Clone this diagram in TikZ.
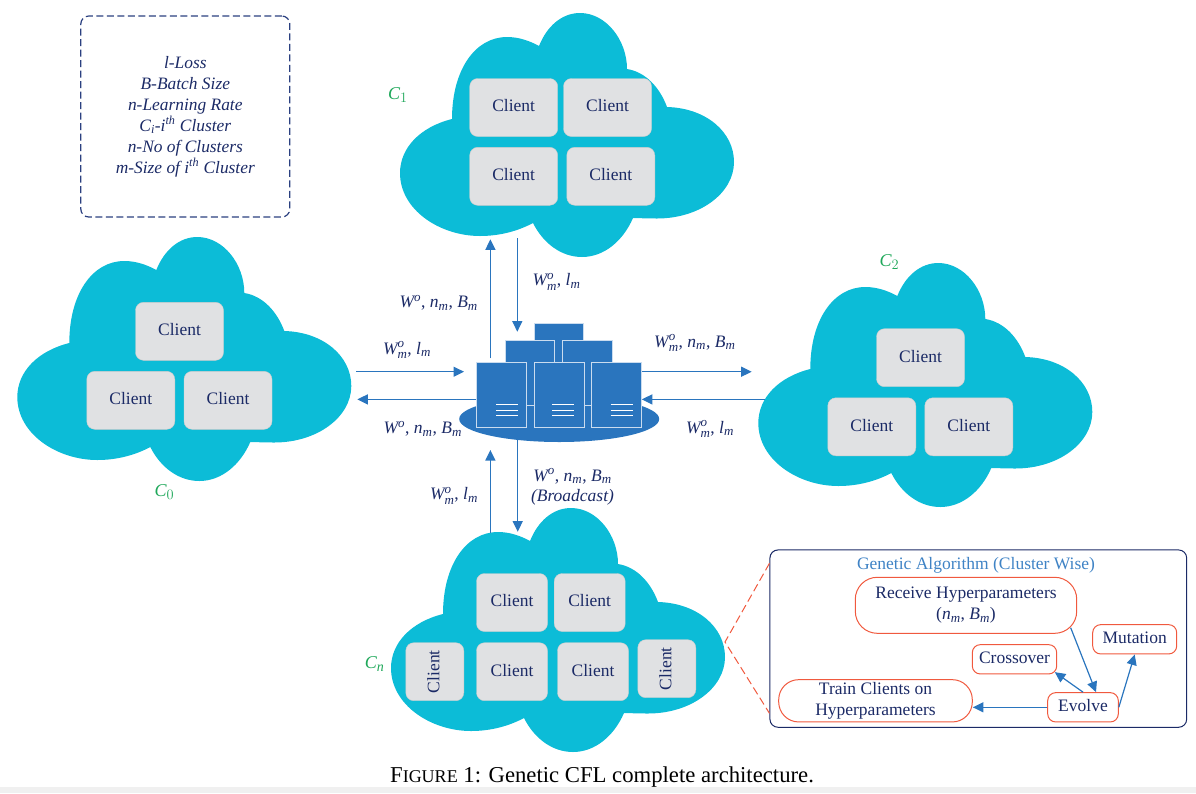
\documentclass[tikz,border=0pt]{standalone}
\usepackage{fontspec}
\usepackage{amsmath}
\setmainfont{Liberation Serif}
\usetikzlibrary{arrows.meta}
\DeclareMathSizes{17.5}{17.5}{13}{10}
\DeclareMathSizes{18}{18}{14}{10}

\definecolor{navy}{HTML}{1B2A66}
\definecolor{legendline}{HTML}{2B4080}
\definecolor{cloudcyan}{HTML}{0CBCD7}
\definecolor{clientgray}{HTML}{E0E1E3}
\definecolor{serverblue}{HTML}{2A75BE}
\definecolor{gared}{HTML}{F0593E}
\definecolor{clustergreen}{HTML}{1FA85A}

\tikzset{
    clientbox/.style={draw=gray!40, fill=clientgray, rounded corners=8pt, minimum width=88pt, minimum height=58pt, inner sep=0pt, text=navy, font=\fontsize{17.5}{20}\selectfont},
    clientnarrow/.style={clientbox, minimum width=58pt},
    clientmid/.style={clientbox, minimum width=71pt},
    clustername/.style={text=clustergreen, inner sep=0pt, font=\fontsize{18}{20}\selectfont},
    params/.style={text=navy, inner sep=0pt, align=center, font=\fontsize{17.5}{20}\selectfont},
    server/.style={draw=serverblue!25, line width=1pt, fill=serverblue, inner sep=0pt},
    serverlines/.style={draw=white, line width=1pt},
    flow/.style={draw=serverblue, line width=1.2pt, -{Triangle[length=10.5pt,width=10pt]}},
    gabox/.style={draw=gared, line width=1pt, text=navy, align=center, inner sep=0pt, font=\fontsize{17.5}{21}\selectfont},
}

% same outline for every cloud, shifted into place
\newcommand{\CloudAt}[2]{
    \fill[cloudcyan, shift={(#1,#2)}] (72,119)
        .. controls (40,127) and (20,148) .. (20,173)
        .. controls (20,210) and (60,236) .. (100,236)
        .. controls (120,236) and (138,231) .. (153,223)
        .. controls (163,243) and (181,257) .. (202,257)
        .. controls (224,257) and (243,241) .. (253,218)
        .. controls (258,218) and (265,218.5) .. (277,218.5)
        .. controls (320,218.5) and (354,193) .. (354,162)
        .. controls (354,132) and (326,108) .. (287,107)
        .. controls (280,88) and (266,72) .. (247,69)
        .. controls (247,40) and (226,13) .. (200,13)
        .. controls (182,13) and (167,26) .. (159,46)
        .. controls (150,41) and (139,37) .. (127,37)
        .. controls (95,37) and (72,70) .. (72,119) -- cycle;
}
\newcommand{\Lift}[1]{\raisebox{1.5pt}[\height][\depth]{#1}}
\newcommand{\Wom}{$\mathit{W}^{\mathit{o}}_{\mathit{m}}$}
\newcommand{\Wup}{$\mathit{W}^{\mathit{o}}$}
\newcommand{\nm}{$\mathit{n}_{\mathit{m}}$}
\newcommand{\Bm}{$\mathit{B}_{\mathit{m}}$}
\newcommand{\lm}{$\mathit{l}_{\mathit{m}}$}

\begin{document}
\begin{tikzpicture}[x=1pt,y=-1pt]
    \useasboundingbox (0,0) rectangle (1196,793);
    \fill[black!6] (0,787) rectangle (1196,793);

    \CloudAt{380}{0}
    \CloudAt{-2.7}{224}
    \CloudAt{738.3}{250}
    \CloudAt{371}{495}

    % legend
    \node[draw=legendline, dash pattern=on 7pt off 3.5pt, line width=1.2pt, rounded corners=8pt, minimum width=209pt, minimum height=201pt, inner sep=0pt, text=navy, align=center, font=\itshape\fontsize{17.4}{21}\selectfont] (legend) at (185.3,116.5)
        {l-Loss\\B-Batch Size\\n-Learning Rate\\C\textsubscript{i}-i\textsuperscript{th} Cluster\\n-No of Clusters\\m-Size of i\textsuperscript{th} Cluster};

    % clients
    \node[clientbox] (cOneA) at (513.7,107.5) {\Lift{Client}};
    \node[clientbox] (cOneB) at (607.5,107.5) {\Lift{Client}};
    \node[clientbox] (cOneC) at (513.7,176.3) {\Lift{Client}};
    \node[clientbox] (cOneD) at (610.8,176.3) {\Lift{Client}};

    \node[clientbox] (cZeroA) at (179.5,331.3) {\Lift{Client}};
    \node[clientbox] (cZeroB) at (130.8,400.3) {\Lift{Client}};
    \node[clientbox] (cZeroC) at (228,400.3) {\Lift{Client}};

    \node[clientbox] (cTwoA) at (920.5,357.7) {\Lift{Client}};
    \node[clientbox] (cTwoB) at (871.8,426.8) {\Lift{Client}};
    \node[clientbox] (cTwoC) at (968.8,426.8) {\Lift{Client}};

    \node[clientmid] (cNA) at (512,602.5) {\Lift{Client}};
    \node[clientmid] (cNB) at (589.7,602.5) {\Lift{Client}};
    \node[clientmid] (cNC) at (512,671.7) {\Lift{Client}};
    \node[clientmid] (cND) at (593,671.7) {\Lift{Client}};
    \node[clientnarrow] (cNE) at (434.8,671.7) {\rotatebox{90}{\Lift{Client}}};
    \node[clientnarrow] (cNF) at (666.8,668.7) {\rotatebox{90}{\Lift{Client}}};

    \node[clustername] (nameZero) at (164.5,491.7) {$\mathit{C}_{0}$};
    \node[clustername] (nameOne) at (398,95) {$\mathit{C}_{1}$};
    \node[clustername] (nameTwo) at (889.5,262) {$\mathit{C}_{2}$};
    \node[clustername] (nameN) at (374.7,664) {$\mathit{C}_{\mathit{n}}$};

    % server stack
    \fill[serverblue] (559.2,419) ellipse (100 and 23);
    \node[server, minimum width=49pt, minimum height=82pt] (svTop) at (558.8,364) {};
    \node[server, minimum width=49pt, minimum height=64.7pt] (svMidA) at (530.4,373.3) {};
    \node[server, minimum width=49.6pt, minimum height=64.7pt] (svMidB) at (587.5,373.3) {};
    \node[server, minimum width=50pt, minimum height=65pt] (svA) at (501.7,394.8) {};
    \node[server, minimum width=50.3pt, minimum height=65pt] (svB) at (559.2,394.8) {};
    \node[server, minimum width=49.6pt, minimum height=65pt] (svC) at (616.5,394.8) {};
    \foreach \sv/\cx in {svA/507.1, svB/563.3, svC/621.5}
        \foreach \ly in {404.3, 410, 415.7}
            \draw[serverlines] (\cx-11,\ly) -- (\cx+11,\ly);

    % free ends of the arrows
    \coordinate (topOut) at (490.4,239.3);
    \coordinate (topIn) at (517.3,238.3);
    \coordinate (leftIn) at (356,371.7);
    \coordinate (leftOut) at (357.3,399.4);
    \coordinate (rightOut) at (751.7,371.7);
    \coordinate (rightIn) at (765,399.4);
    \coordinate (botIn) at (490.4,533);
    \coordinate (botOut) at (517.7,531.7);

    \draw[flow] (490.4,358.3) -- (topOut);
    \draw[flow] (topIn) -- (517.3,331.7);
    \draw[flow] (leftIn) -- (464,371.7);
    \draw[flow] (svA.west |- leftOut) -- (leftOut);
    \draw[flow] (svC.east |- rightOut) -- (rightOut);
    \draw[flow] (rightIn) -- (svC.east |- rightIn);
    \draw[flow] (botIn) -- (490.4,450);
    \draw[flow] (517.7,440) -- (botOut);

    \node[params] (pTopOut) at (438.7,303) {\Wup, \nm, \Bm};
    \node[params] (pTopIn) at (556.5,281.7) {\Wom, \lm};
    \node[params] (pLeftIn) at (407,350) {\Wom, \lm};
    \node[params] (pLeftOut) at (422.8,429) {\Wup, \nm, \Bm};
    \node[params] (pRightOut) at (694.8,343) {\Wom, \nm, \Bm};
    \node[params] (pRightIn) at (710,429) {\Wom, \lm};
    \node[params] (pBotIn) at (454,495.7) {\Wom, \lm};
    \node[params] (pBotOut) at (572.5,486.7) {\Wup, \nm, \Bm\\\textit{(Broadcast)}};

    % genetic algorithm panel
    \node[draw=navy, line width=1pt, rounded corners=8pt, minimum width=416.7pt, minimum height=177.3pt] (gaPanel) at (978.3,638.6) {};
    \node[text=serverblue!90, inner sep=0pt, font=\fontsize{17.5}{20}\selectfont] (gaTitle) at (976,565.8) {Genetic Algorithm (Cluster Wise)};
    \node[gabox, rounded corners=22pt, minimum width=221.4pt, minimum height=56pt] (receive) at (966,605.3) {Receive Hyperparameters\\($\mathit{n}_{\mathit{m}}$, $\mathit{B}_{\mathit{m}}$)};
    \node[gabox, rounded corners=8pt, minimum width=84pt, minimum height=29.3pt] (mutation) at (1134.7,639.3) {\Lift{Mutation}};
    \node[gabox, rounded corners=8pt, minimum width=84.4pt, minimum height=29.3pt] (crossover) at (1014.5,659.3) {\Lift{Crossover}};
    \node[gabox, rounded corners=8pt, minimum width=70.6pt, minimum height=29.3pt] (evolve) at (1083,707.3) {\Lift{Evolve}};
    \node[gabox, rounded corners=20pt, minimum width=193.6pt, minimum height=42.3pt] (train) at (875.5,700.8) {Train Clients on\\Hyperparameters};

    \draw[flow] ([shift={(-6.5pt,6pt)}]receive.south east) -- ([xshift=13pt]evolve.north);
    \draw[flow] (evolve.north) -- ([shift={(-2.4pt,2.3pt)}]crossover.south east);
    \draw[flow] (evolve.east) -- (mutation.south);
    \draw[flow] (evolve.west) -- (evolve.west -| train.east);

    % zoom lines from cloud to panel
    \coordinate (zoomTip) at (725,642);
    \draw[gared, dash pattern=on 8pt off 4pt, line width=1pt] (gaPanel.north west |- 0,563.3) -- (zoomTip) -- (gaPanel.south west |- 0,713.3);

    \node[inner sep=0pt, font=\fontsize{22.7}{24}\selectfont] (caption) at (602,777) {F{\fontsize{18}{24}\selectfont IGURE} 1: Genetic CFL complete architecture.};
\end{tikzpicture}
\end{document}
